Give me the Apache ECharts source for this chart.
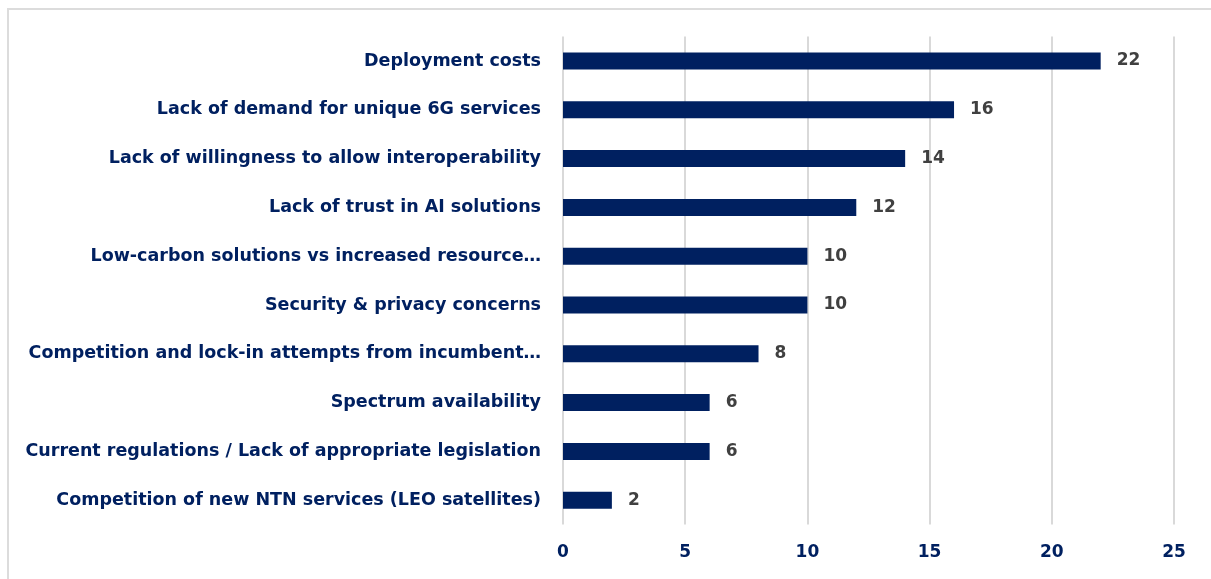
<!DOCTYPE html>
<html>
<head>
<meta charset="utf-8">
<script src="https://cdn.jsdelivr.net/npm/echarts@6/dist/echarts.min.js"></script>
<style>
  html, body { margin: 0; padding: 0; background: #fff; }
  #chart { width: 1211px; height: 579px; }
</style>
</head>
<body>
<div id="chart"></div>
<script>
// Barriers to 6G adoption, ordered top to bottom
const categories = [
  'Deployment costs',
  'Lack of demand for unique 6G services',
  'Lack of willingness to allow interoperability',
  'Lack of trust in AI solutions',
  'Low-carbon solutions vs increased resource…',
  'Security & privacy concerns',
  'Competition and lock-in attempts from incumbent…',
  'Spectrum availability',
  'Current regulations / Lack of appropriate legislation',
  'Competition of new NTN services (LEO satellites)'
];
const counts = [22, 16, 14, 12, 10, 10, 8, 6, 6, 2];
const xTicks = [0, 5, 10, 15, 20, 25];

const navy = '#002060';
const font = '"DejaVu Sans", sans-serif';

const chart = echarts.init(document.getElementById('chart'), null, { renderer: 'canvas' });
chart.setOption({
  animation: false,
  backgroundColor: '#ffffff',
  graphic: [{
    type: 'rect',
    shape: { x: 8, y: 9, width: 1230, height: 600 },
    style: { fill: 'none', stroke: '#dcdcdc', lineWidth: 2 },
    silent: true
  }],
  grid: { left: 563, right: 37, top: 36.6, bottom: 54.4, containLabel: false },
  xAxis: {
    type: 'value',
    min: xTicks[0],
    max: xTicks[xTicks.length - 1],
    interval: xTicks[1] - xTicks[0],
    axisLine: { show: false },
    axisTick: { show: false },
    splitLine: { show: true, lineStyle: { color: '#d9d9d9', width: 2 } },
    axisLabel: {
      color: navy, fontFamily: font, fontWeight: 'bold', fontSize: 17, margin: 19
    }
  },
  yAxis: {
    type: 'category',
    inverse: true,
    data: categories,
    axisLine: { show: false },
    axisTick: { show: false },
    axisLabel: {
      color: navy, fontFamily: font, fontWeight: 'bold', fontSize: 17.5, margin: 22
    }
  },
  series: [{
    type: 'bar',
    data: counts,
    barWidth: 17,
    itemStyle: { color: navy },
    label: {
      show: true,
      position: 'right',
      distance: 16,
      color: '#404040',
      fontFamily: font,
      fontWeight: 'bold',
      fontSize: 17
    }
  }]
});
</script>
</body>
</html>
